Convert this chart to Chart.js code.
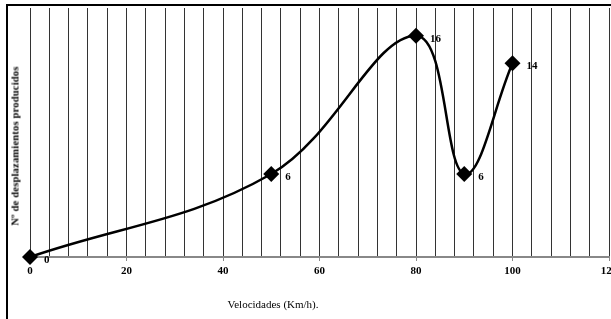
<!DOCTYPE html>
<html>
<head>
<meta charset="utf-8">
<script src="https://cdn.jsdelivr.net/npm/chart.js@4/dist/chart.umd.min.js"></script>
<style>
  html, body { margin: 0; padding: 0; background: #fff; overflow: hidden; width: 611px; height: 319px; }
  .frame { position: absolute; left: 6px; top: 4px; width: 700px; height: 400px; border-left: 2px solid #000; border-top: 2px solid #000; }
  #wrap { position: absolute; left: 0; top: 0; }
  .ytitle { position: absolute; left: 15px; top: 146px; transform: translate(-50%, -50%) rotate(-90deg); font: bold 10.5px 'Liberation Serif'; white-space: nowrap; letter-spacing: 0.2px; }
  .xtitle { position: absolute; left: 273px; top: 304px; transform: translate(-50%, -50%); font: 11px 'Liberation Serif'; white-space: nowrap; }
</style>
</head>
<body>
<div class="frame"></div>
<div id="wrap"><canvas id="chart" width="640" height="319"></canvas></div>
<div class="ytitle">Nº de desplazamientos producidos</div>
<div class="xtitle">Velocidades (Km/h).</div>
<script>
// --- Data ---
const velocidades = [0, 50, 80, 90, 100];
const desplazamientos = [0, 6, 16, 6, 14];
const xTickLabels = [0, 20, 40, 60, 80, 100, 120];

// labels next to each point
const pointLabels = {
    id: 'pointLabels',
    afterDatasetsDraw(chart) {
        const ctx = chart.ctx;
        const meta = chart.getDatasetMeta(0);
        ctx.save();
        ctx.font = 'bold 11px "Liberation Serif"';
        ctx.fillStyle = '#000';
        ctx.textAlign = 'left';
        ctx.textBaseline = 'middle';
        meta.data.forEach((pt, i) => ctx.fillText(String(desplazamientos[i]), pt.x + 14, pt.y + 3));
        ctx.restore();
    }
};

const ctx = document.getElementById('chart').getContext('2d');
new Chart(ctx, {
    type: 'line',
    data: {
        datasets: [{
            data: velocidades.map((v, i) => ({ x: v, y: desplazamientos[i] })),
            borderColor: '#000',
            borderWidth: 2.5,
            tension: 0.38,
            pointStyle: 'rectRot',
            pointRadius: 8,
            pointBackgroundColor: '#000',
            pointBorderColor: '#000',
            pointBorderWidth: 0,
            clip: false
        }]
    },
    options: {
        responsive: false,
        animation: false,
        layout: { padding: { top: 6, right: 31, left: 0, bottom: 0 } },
        plugins: { legend: { display: false }, tooltip: { enabled: false } },
        scales: {
            x: {
                type: 'linear',
                min: 0,
                max: 120,
                afterFit: s => { s.height = 62; },
                border: { display: true, color: '#888', width: 2 },
                grid: {
                    color: '#333',
                    lineWidth: 1,
                    tickLength: 4,
                    tickColor: c => xTickLabels.includes(c.tick.value) ? '#888' : 'rgba(0,0,0,0)'
                },
                ticks: {
                    stepSize: 4,
                    autoSkip: false,
                    maxRotation: 0,
                    padding: 4,
                    color: '#000',
                    font: { family: 'Liberation Serif', size: 11, weight: 'bold' },
                    callback: v => xTickLabels.includes(v) ? String(v) : ''
                }
            },
            y: {
                min: 0,
                max: 18,
                afterFit: s => { s.width = 30; },
                border: { display: false },
                grid: { display: false },
                ticks: { display: false }
            }
        }
    },
    plugins: [pointLabels]
});
</script>
</body>
</html>
